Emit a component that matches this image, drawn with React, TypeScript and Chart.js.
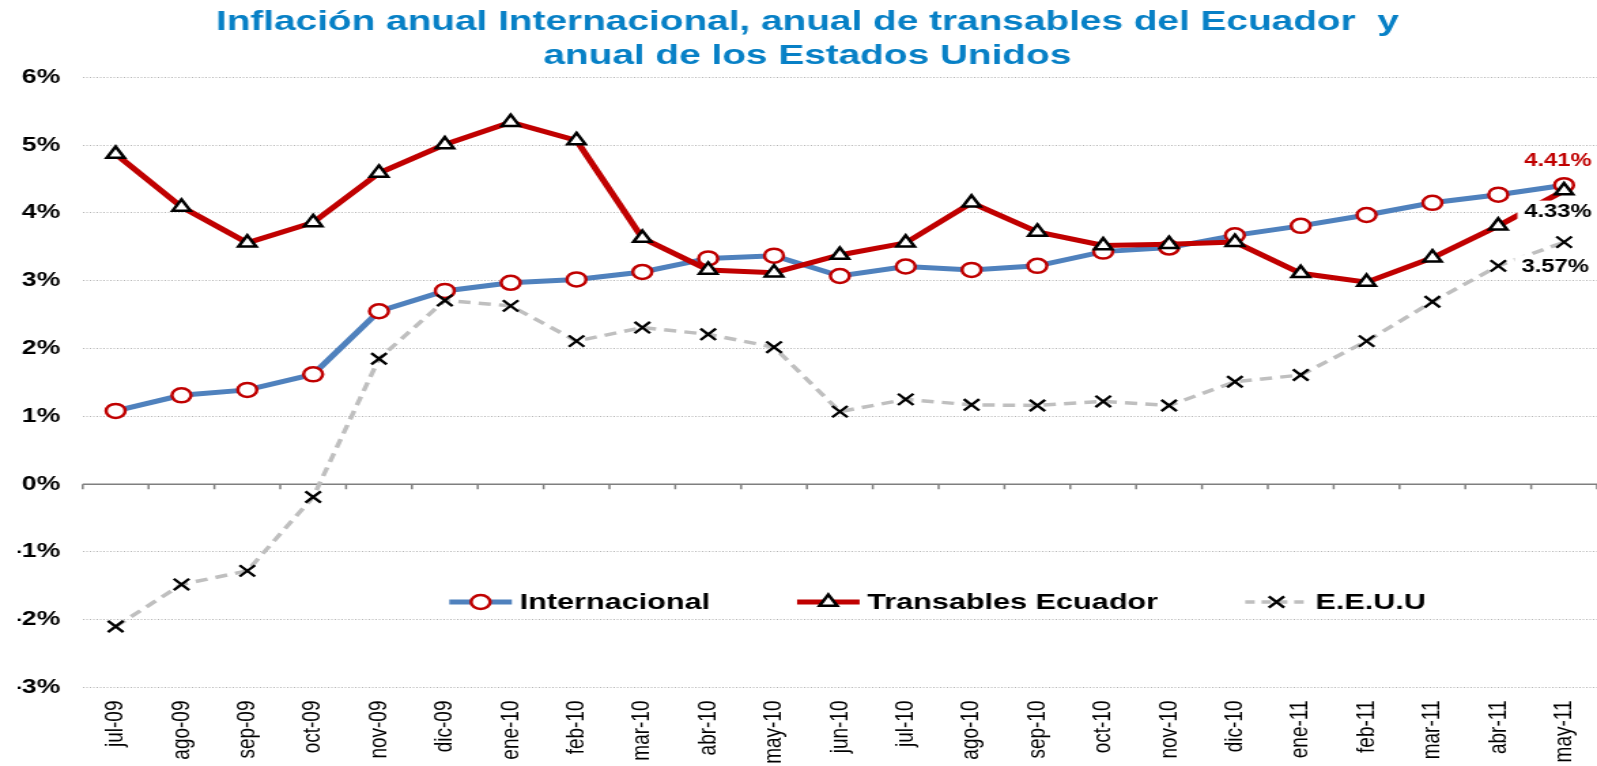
import React, { useEffect, useRef } from 'react';
import { Chart, registerables } from 'chart.js';

Chart.register(...registerables);

// ---------- data ----------
const categories = [
  'jul-09', 'ago-09', 'sep-09', 'oct-09', 'nov-09', 'dic-09', 'ene-10', 'feb-10',
  'mar-10', 'abr-10', 'may-10', 'jun-10', 'jul-10', 'ago-10', 'sep-10', 'oct-10',
  'nov-10', 'dic-10', 'ene-11', 'feb-11', 'mar-11', 'abr-11', 'may-11',
];
const internacional = [
  1.08, 1.31, 1.39, 1.62, 2.55, 2.85, 2.97, 3.02, 3.13, 3.33, 3.37, 3.07,
  3.21, 3.16, 3.22, 3.43, 3.49, 3.67, 3.81, 3.97, 4.15, 4.27, 4.41,
];
const transables = [
  4.87, 4.09, 3.56, 3.86, 4.59, 5.01, 5.34, 5.07, 3.63, 3.16, 3.12, 3.38,
  3.56, 4.15, 3.72, 3.52, 3.54, 3.57, 3.11, 2.98, 3.34, 3.81, 4.33,
];
const eeuu = [
  -2.1, -1.48, -1.28, -0.19, 1.85, 2.71, 2.63, 2.11, 2.31, 2.21, 2.02, 1.07,
  1.25, 1.17, 1.16, 1.22, 1.16, 1.51, 1.61, 2.11, 2.69, 3.22, 3.57,
];
const seriesNames = ['Internacional', 'Transables Ecuador', 'E.E.U.U'];
const titleLines = [
  'Inflación anual Internacional, anual de transables del Ecuador  y',
  'anual de los Estados Unidos',
];
const yMin = -3;
const yMax = 6;
const yStep = 1;

// ---------- layout / style ----------
const FONT = "'Liberation Sans', Arial, Helvetica, sans-serif";
const FULL_W = 1597;
const H = 766;
const STRETCH = 1.36; // the picture is horizontally stretched
const W = Math.round(FULL_W / STRETCH);

type MarkerStyle = {
  shape: 'circle' | 'triangle' | 'crossRot';
  r: number;
  stroke: string;
  fill: string;
  width: number;
};

function drawMarker(ctx: CanvasRenderingContext2D, x: number, y: number, m: MarkerStyle) {
  ctx.save();
  ctx.lineWidth = m.width;
  ctx.strokeStyle = m.stroke;
  ctx.fillStyle = m.fill;
  ctx.setLineDash([]);
  ctx.beginPath();
  if (m.shape === 'circle') {
    ctx.arc(x, y, m.r, 0, Math.PI * 2);
    ctx.closePath();
    ctx.fill();
    ctx.stroke();
  } else if (m.shape === 'triangle') {
    let rad = 0;
    ctx.moveTo(x + Math.sin(rad) * m.r, y - Math.cos(rad) * m.r);
    rad += (2 * Math.PI) / 3;
    ctx.lineTo(x + Math.sin(rad) * m.r, y - Math.cos(rad) * m.r);
    rad += (2 * Math.PI) / 3;
    ctx.lineTo(x + Math.sin(rad) * m.r, y - Math.cos(rad) * m.r);
    ctx.closePath();
    ctx.fill();
    ctx.stroke();
  } else {
    const o = Math.cos(Math.PI / 4) * m.r;
    ctx.moveTo(x - o, y - o);
    ctx.lineTo(x + o, y + o);
    ctx.moveTo(x + o, y - o);
    ctx.lineTo(x - o, y + o);
    ctx.stroke();
  }
  ctx.restore();
}

const markers: MarkerStyle[] = [
  { shape: 'circle', r: 7, stroke: '#C00000', fill: '#FFFFFF', width: 2.5 },
  { shape: 'triangle', r: 7.5, stroke: '#000000', fill: '#FFFFFF', width: 2.5 },
  { shape: 'crossRot', r: 8, stroke: '#000000', fill: '#000000', width: 2.3 },
];
const lineColors = ['#4F81BD', '#C00000', '#BFBFBF'];
const lineWidths = [5, 5, 3.5];
const lineDashes: number[][] = [[], [], [9, 6]];

// end-of-series labels: offsets relative to last point, text colour, background
const endLabels = [
  { dx: -4.5, dy: -24, color: '#C00000', bg: null as string | null },
  { dx: -4.5, dy: 22, color: '#000000', bg: '#FFFFFF' },
  { dx: -6.5, dy: 25, color: '#000000', bg: '#FFFFFF' },
];

const zeroLinePlugin = {
  id: 'zeroLine',
  beforeDatasetsDraw(chart: any) {
    const { ctx, chartArea, scales } = chart;
    const y0 = scales.y.getPixelForValue(0);
    const n = categories.length;
    const step = (chartArea.right - chartArea.left) / n;
    ctx.save();
    ctx.strokeStyle = '#7F7F7F';
    ctx.lineWidth = 1.5;
    ctx.setLineDash([]);
    ctx.beginPath();
    ctx.moveTo(chartArea.left, y0);
    ctx.lineTo(chartArea.right, y0);
    for (let i = 0; i <= n; i++) {
      const px = chartArea.left + i * step;
      ctx.moveTo(px, y0);
      ctx.lineTo(px, y0 + 5);
    }
    ctx.stroke();
    ctx.restore();
  },
};

const labelsPlugin = {
  id: 'endLabels',
  afterDatasetsDraw(chart: any) {
    const { ctx } = chart;
    ctx.save();
    ctx.font = `bold 17.5px ${FONT}`;
    ctx.textAlign = 'center';
    ctx.textBaseline = 'middle';
    chart.data.datasets.forEach((ds: any, i: number) => {
      const meta = chart.getDatasetMeta(i);
      const last = meta.data[meta.data.length - 1];
      const v = ds.data[ds.data.length - 1];
      const txt = `${v.toFixed(2)}%`;
      const cfg = endLabels[i];
      const x = last.x + cfg.dx;
      const y = last.y + cfg.dy;
      const w = ctx.measureText(txt).width;
      if (cfg.bg) {
        ctx.fillStyle = cfg.bg;
        ctx.fillRect(x - w / 2 - 5, y - 12, w + 10, 24);
      }
      ctx.fillStyle = cfg.color;
      ctx.fillText(txt, x, y);
    });
    ctx.restore();
  },
};

const legendPlugin = {
  id: 'customLegend',
  afterDraw(chart: any) {
    const { ctx, chartArea } = chart;
    const y = chartArea.top + 524.6;
    let cx = chartArea.left + 269.5;
    const lineLen = 46;
    ctx.save();
    ctx.font = `bold 22.5px ${FONT}`;
    ctx.textBaseline = 'middle';
    ctx.textAlign = 'left';
    seriesNames.forEach((name, i) => {
      ctx.save();
      ctx.strokeStyle = lineColors[i];
      ctx.lineWidth = lineWidths[i];
      ctx.setLineDash(i === 2 ? [7, 5] : []);
      ctx.beginPath();
      ctx.moveTo(cx, y);
      ctx.lineTo(cx + lineLen, y);
      ctx.stroke();
      ctx.restore();
      drawMarker(ctx, cx + lineLen / 2, y, markers[i]);
      ctx.fillStyle = '#000000';
      ctx.fillText(name, cx + lineLen + 5.6, y + 1);
      cx += lineLen + 5.6 + ctx.measureText(name).width + 64;
    });
    ctx.restore();
  },
};

export default function App() {
  const ref = useRef<HTMLCanvasElement | null>(null);

  useEffect(() => {
    if (!ref.current) return;
    const seriesData = [internacional, transables, eeuu];
    const orders = [2, 1, 0];
    const chart = new Chart(ref.current, {
      type: 'line',
      data: {
        labels: categories,
        datasets: seriesData.map((d, i) => ({
          label: seriesNames[i],
          data: d,
          order: orders[i],
          borderColor: lineColors[i],
          borderWidth: lineWidths[i],
          borderDash: lineDashes[i],
          tension: 0,
          fill: false,
          pointStyle: markers[i].shape,
          pointRadius: markers[i].r,
          pointBorderColor: markers[i].stroke,
          pointBackgroundColor: markers[i].fill,
          pointBorderWidth: markers[i].width,
        })),
      },
      options: {
        responsive: false,
        devicePixelRatio: 1,
        animation: false,
        events: [],
        layout: { autoPadding: false, padding: { left: 13, right: 0, top: 0, bottom: 0 } },
        plugins: {
          legend: { display: false },
          tooltip: { enabled: false },
          title: {
            display: true,
            text: titleLines,
            color: '#0780C6',
            font: { family: FONT, size: 28.5, weight: 'bold', lineHeight: 1.2 },
            padding: { top: 5, bottom: 4 },
          },
        },
        scales: {
          x: {
            type: 'category',
            offset: true,
            grid: { display: false, drawTicks: false },
            border: { display: false },
            ticks: {
              autoSkip: false,
              minRotation: 90,
              maxRotation: 90,
              padding: 13,
              color: '#000000',
              font: { family: FONT, size: 19 },
            },
            afterFit: (s: any) => {
              s.height = 78.5;
              s.paddingLeft = 0;
              s.paddingRight = 0;
            },
          },
          y: {
            min: yMin,
            max: yMax,
            grid: { color: '#B4B4B4', lineWidth: 1, drawTicks: false },
            border: { display: false, dash: [1, 1.5] },
            ticks: {
              stepSize: yStep,
              padding: 16.5,
              color: '#000000',
              font: { family: FONT, size: 19.5, weight: 'bold' },
              callback: (v: any) => `${v}%`,
            },
            afterFit: (s: any) => {
              s.width = 47.8;
            },
          },
        },
      },
      plugins: [zeroLinePlugin, labelsPlugin, legendPlugin],
    } as any);
    return () => chart.destroy();
  }, []);

  return (
    <div
      style={{
        position: 'fixed',
        left: 0,
        top: 0,
        width: FULL_W,
        height: H,
        background: '#FFFFFF',
      }}
    >
      <canvas
        ref={ref}
        width={W}
        height={H}
        style={{ width: `${FULL_W}px`, height: `${H}px`, display: 'block' }}
      />
    </div>
  );
}
